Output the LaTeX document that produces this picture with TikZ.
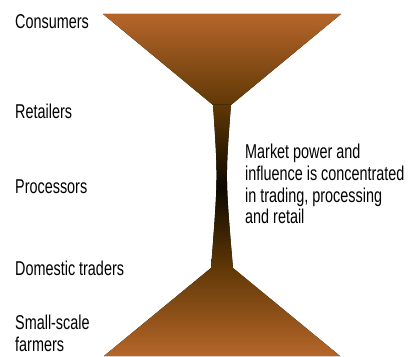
\documentclass[tikz,border=0pt]{standalone}
\usepackage{fontspec}
\setmainfont[FakeStretch=0.72]{Liberation Sans}
\definecolor{funnelorange}{RGB}{182,102,42}
\definecolor{funnelbrown}{RGB}{96,56,6}
\definecolor{funneldark}{RGB}{14,8,0}
\begin{document}
\begin{tikzpicture}[x=1pt,y=1pt,
    stage node/.style={anchor=base west,inner sep=0pt,align=left,font=\fontsize{20}{21.7}\selectfont},
    note node/.style={stage node}]
                \useasboundingbox (0,0) rectangle (409,356);

                % funnel
                \fill[top color=funnelorange,bottom color=funnelbrown]
                    (103,342) -- (341,342) -- (231,251) -- (213,251) -- cycle;
                \fill[top color=funnelbrown,bottom color=funnelbrown,middle color=funneldark]
                    (213,251.5) .. controls (218,178) .. (211,87.5) -- (233,87.5)
                    .. controls (225.3,178) .. (231,251.5) -- cycle;
                \fill[top color=funnelbrown,bottom color=funnelorange]
                    (211,88) -- (233,88) -- (340,0) -- (104,0) -- cycle;

                % stages (base of a two-line node is its last line)
                \node[stage node] (1) at (15,327) {Consumers};
                \node[stage node] (2) at (15,237) {Retailers};
                \node[stage node] (3) at (15,162) {Processors};
                \node[stage node] (4) at (15,81) {Domestic traders};
                \node[stage node] (5) at (15,4.5) {Small-scale\\farmers};
                \node[note node] (6) at (245,132) {Market power and\\influence is concentrated\\in trading, processing\\and retail};
            \end{tikzpicture}
\end{document}
